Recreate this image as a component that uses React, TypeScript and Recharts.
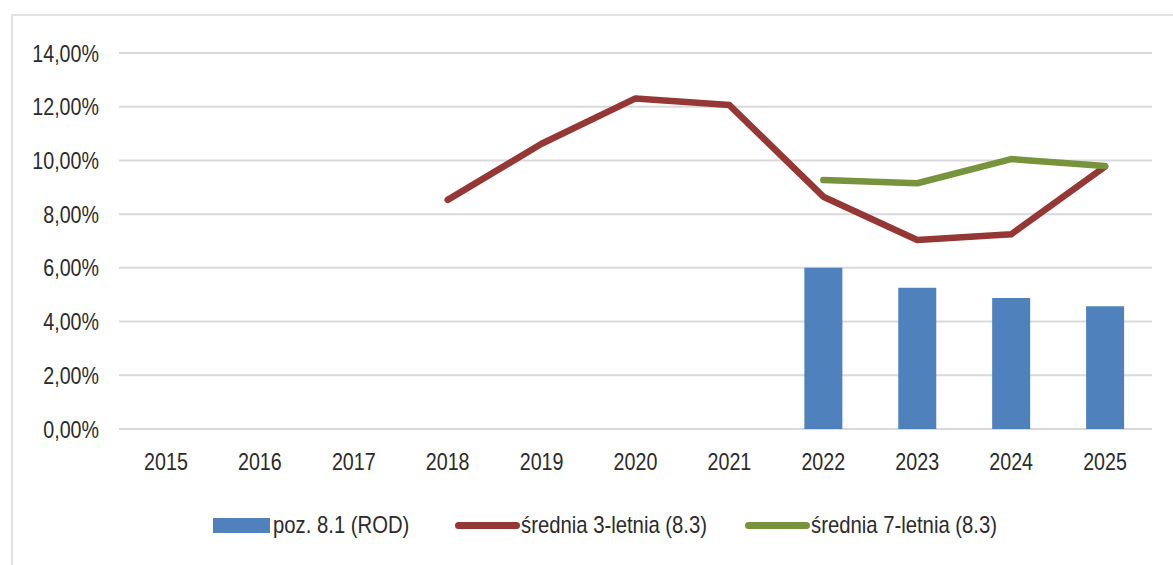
import React from "react";
import {
  ComposedChart,
  Bar,
  Line,
  XAxis,
  YAxis,
  CartesianGrid,
  Legend,
} from "recharts";

const years = ["2015", "2016", "2017", "2018", "2019", "2020", "2021", "2022", "2023", "2024", "2025"];
const poz81: (number | null)[] = [null, null, null, null, null, null, null, 6.0, 5.26, 4.88, 4.57];
const avg3: (number | null)[] = [null, null, null, 8.53, 10.62, 12.31, 12.06, 8.65, 7.04, 7.25, 9.77];
const avg7: (number | null)[] = [null, null, null, null, null, null, null, 9.27, 9.15, 10.05, 9.79];
const yTicks = [0, 2, 4, 6, 8, 10, 12, 14];

const seriesNames = ["poz. 8.1 (ROD)", "średnia 3-letnia (8.3)", "średnia 7-letnia (8.3)"];
const colors = { bar: "#4F81BD", red: "#953735", green: "#77933C" };

const data = years.map((y, i) => ({
  year: y,
  poz81: poz81[i],
  avg3: avg3[i],
  avg7: avg7[i],
}));

const FONT = "'Liberation Sans', Arial, sans-serif";
const TEXT = "#2b2b2b";
const SX = 0.82;
const SX_LEGEND = 0.845;

const fmt = (v: number) => `${v.toFixed(2).replace(".", ",")}%`;

const XTick = (props: any) => {
  const { x, y, payload } = props;
  return (
    <g transform={`translate(${x},${y})`}>
      <text transform={`scale(${SX},1)`} textAnchor="middle" dy="0.71em" fontFamily={FONT} fontSize={24} fill={TEXT}>
        {payload.value}
      </text>
    </g>
  );
};

const YTick = (props: any) => {
  const { x, y, payload } = props;
  return (
    <g transform={`translate(${x},${y})`}>
      <text transform={`scale(${SX},1)`} textAnchor="end" dy="0.355em" fontFamily={FONT} fontSize={24} fill={TEXT}>
        {fmt(payload.value)}
      </text>
    </g>
  );
};

const legendLefts = [213, 455, 745];

const LegendContent = () => {
  const items = [
    { name: seriesNames[0], color: colors.bar, type: "rect" },
    { name: seriesNames[1], color: colors.red, type: "line" },
    { name: seriesNames[2], color: colors.green, type: "line" },
  ];
  return (
    <div style={{ position: "relative", height: 50, width: 1173, fontFamily: FONT, fontSize: 24, color: TEXT }}>
      {items.map((it, i) => (
        <div
          key={it.name}
          style={{ position: "absolute", left: legendLefts[i], top: 0, height: 50, display: "flex", alignItems: "center" }}
        >
          {it.type === "rect" ? (
            <div style={{ width: 57, height: 15, background: it.color, marginRight: 3, flex: "none" }} />
          ) : (
            <div style={{ width: 65, height: 7, borderRadius: 4, background: it.color, marginRight: 1, flex: "none" }} />
          )}
          <span
            style={{
              whiteSpace: "nowrap",
              display: "inline-block",
              transform: `scaleX(${SX_LEGEND})`,
              transformOrigin: "left center",
            }}
          >
            {it.name}
          </span>
        </div>
      ))}
    </div>
  );
};

export default function App() {
  return (
    <div
      style={{
        position: "absolute",
        left: 0,
        top: 0,
        width: 1173,
        height: 565,
        background: "#fff",
        overflow: "hidden",
      }}
    >
      <div
        style={{
          position: "absolute",
          left: 11,
          top: 14,
          width: 1200,
          height: 600,
          borderTop: "2px solid #e2e2e2",
          borderLeft: "2px solid #e2e2e2",
        }}
      />
      <ComposedChart
        width={1173}
        height={565}
        data={data}
        margin={{ top: 53, right: 21, left: 0, bottom: 15 }}
        barSize={38}
      >
        <CartesianGrid horizontal vertical={false} stroke="#d9d9d9" strokeWidth={2} />
        <XAxis
          dataKey="year"
          height={71}
          axisLine={false}
          tickLine={false}
          tickMargin={18}
          tick={<XTick />}
          interval={0}
        />
        <YAxis
          width={119}
          domain={[0, 14]}
          ticks={yTicks}
          axisLine={false}
          tickLine={false}
          tickMargin={14}
          tick={<YTick />}
        />
        <Legend verticalAlign="bottom" height={50} content={<LegendContent />} wrapperStyle={{ left: 0, width: 1173 }} />
        <Bar dataKey="poz81" name={seriesNames[0]} fill={colors.bar} isAnimationActive={false} />
        <Line
          dataKey="avg3"
          name={seriesNames[1]}
          stroke={colors.red}
          strokeWidth={6.5}
          strokeLinecap="round"
          strokeLinejoin="round"
          dot={false}
          activeDot={false}
          isAnimationActive={false}
        />
        <Line
          dataKey="avg7"
          name={seriesNames[2]}
          stroke={colors.green}
          strokeWidth={6.5}
          strokeLinecap="round"
          strokeLinejoin="round"
          dot={false}
          activeDot={false}
          isAnimationActive={false}
        />
      </ComposedChart>
    </div>
  );
}
